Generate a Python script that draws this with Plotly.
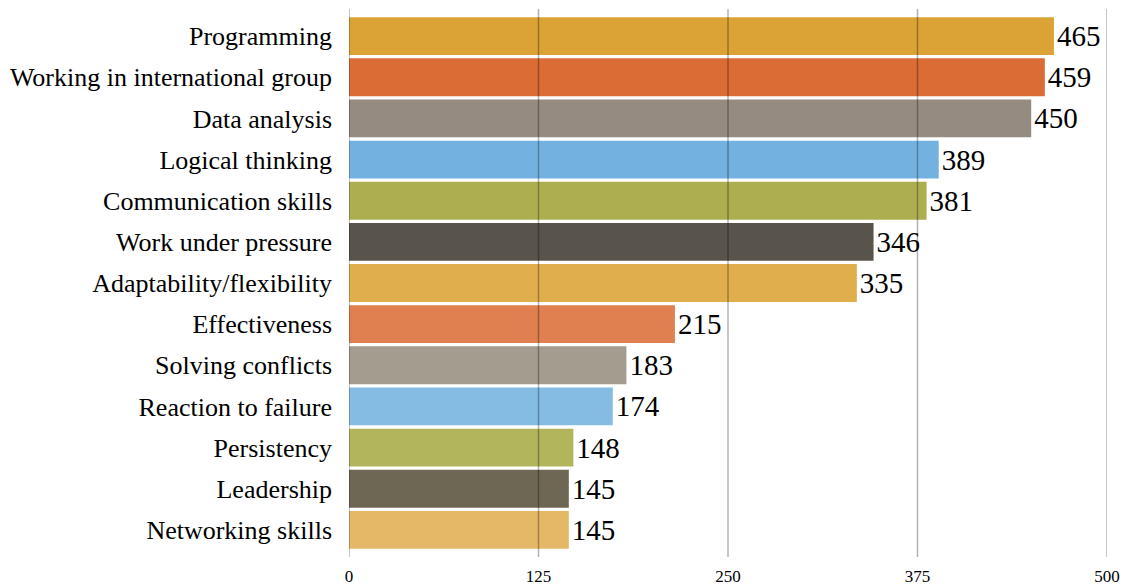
import plotly.graph_objects as go

categories = ["Programming", "Working in international group", "Data analysis",
              "Logical thinking", "Communication skills", "Work under pressure",
              "Adaptability/flexibility", "Effectiveness", "Solving conflicts",
              "Reaction to failure", "Persistency", "Leadership", "Networking skills"]
values = [465, 459, 450, 389, 381, 346, 335, 215, 183, 174, 148, 145, 145]
colors = ["#DBA336", "#DC6C35", "#958B80", "#73B2E0", "#ADAE4F", "#58534B",
          "#E1AE4E", "#E07F4F", "#A59C90", "#84BCE4", "#B3B55D", "#6E6753", "#E4B866"]
x_ticks = [0, 125, 250, 375, 500]

FONT = "Liberation Serif, Times New Roman, serif"

fig = go.Figure(go.Bar(
    y=categories, x=values, orientation="h",
    marker=dict(color=colors, line=dict(width=0)),
    text=[str(v) for v in values], textposition="outside",
    textfont=dict(family=FONT, size=29, color="#000"),
    cliponaxis=False,
))

shapes = [dict(type="line", xref="x", yref="paper", x0=t, x1=t, y0=0, y1=1,
               line=dict(color="rgba(0,0,0,0.3)", width=1.5), layer="above")
          for t in x_ticks]

fig.update_layout(
    width=1131, height=587,
    margin=dict(l=349, r=24, t=9, b=30, autoexpand=False),
    paper_bgcolor="white", plot_bgcolor="white",
    bargap=0.08,
    showlegend=False,
    shapes=shapes,
    font=dict(family=FONT, color="#000"),
    xaxis=dict(range=[0, 500], tickvals=x_ticks, ticktext=[str(t) for t in x_ticks],
               showgrid=False, zeroline=False, showline=False, automargin=False,
               tickfont=dict(family=FONT, size=17, color="#000"), ticks="",
               ticklabelstandoff=7),
    yaxis=dict(autorange=False, range=[12.66, -0.66], showgrid=False, zeroline=False,
               showline=False, automargin=False,
               tickfont=dict(family=FONT, size=26, color="#000"),
               ticks="", ticklabelstandoff=16),
)

fig.write_html("out.html", config={"displayModeBar": False},
               post_script="document.body.style.margin='0';")
